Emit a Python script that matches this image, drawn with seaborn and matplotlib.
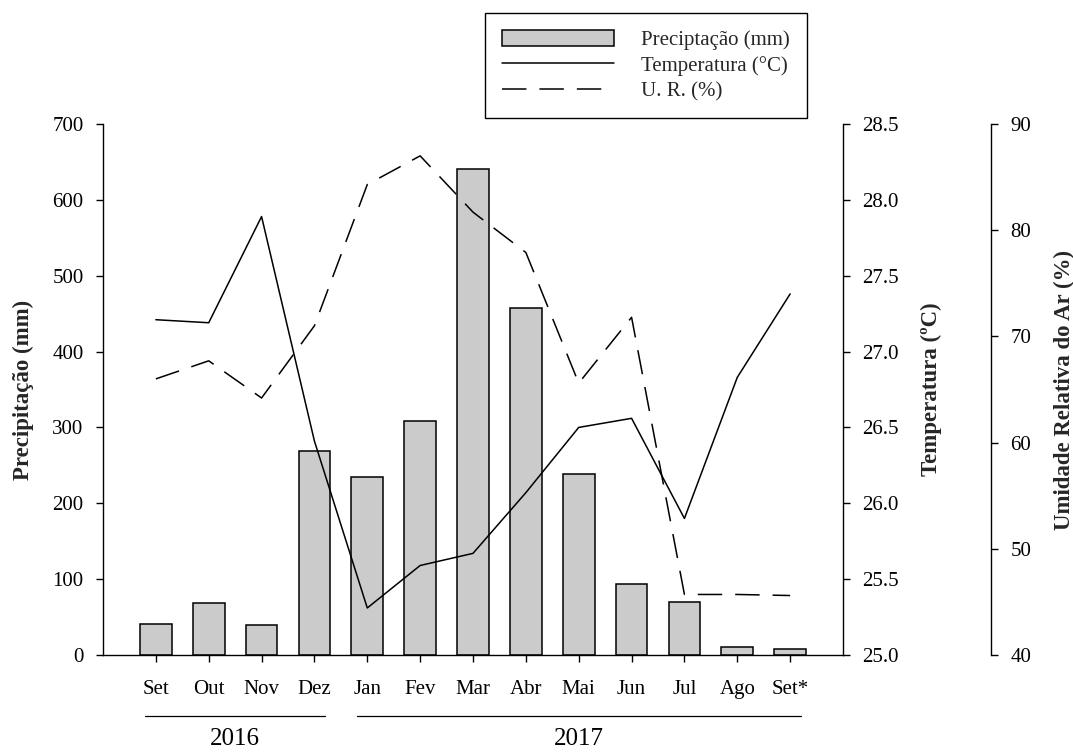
import numpy as np
import pandas as pd
import matplotlib
matplotlib.use("Agg")
import matplotlib.pyplot as plt
import matplotlib.transforms as mtransforms
from matplotlib.lines import Line2D
from matplotlib.patches import Patch
import seaborn as sns

# Monthly climate data
meses = ["Set", "Out", "Nov", "Dez", "Jan", "Fev", "Mar", "Abr", "Mai", "Jun", "Jul", "Ago", "Set*"]
precipitacao = [41, 69, 40, 269, 234, 309, 641, 458, 239, 94, 70, 10, 8]
temperatura = [27.21, 27.19, 27.89, 26.41, 25.31, 25.59, 25.67, 26.07, 26.50, 26.56, 25.90, 26.83, 27.38]
umidade = [66.0, 67.7, 64.2, 71.0, 84.3, 87.0, 81.7, 77.9, 65.6, 71.8, 45.7, 45.7, 45.6]
anos = ["2016", "2017"]
meses_por_ano = [4, 9]

prec_ticks = [0, 100, 200, 300, 400, 500, 600, 700]
temp_ticks = [25.0, 25.5, 26.0, 26.5, 27.0, 27.5, 28.0, 28.5]
ur_ticks = [40, 50, 60, 70, 80, 90]

sns.set_theme(style="ticks")
plt.rcParams["font.family"] = ["Liberation Serif", "DejaVu Serif"]
plt.rcParams["axes.linewidth"] = 1.0

TICK_FS = 15
LABEL_FS = 16.5

df = pd.DataFrame({
    "mes": meses,
    "pos": np.arange(len(meses)),
    "prec": precipitacao,
    "temp": temperatura,
    "ur": umidade,
})

fig = plt.figure(figsize=(10.73, 7.53), dpi=100)
ax = fig.add_axes([103 / 1073, 98 / 753, 740 / 1073, 531 / 753])

# Precipitation bars
sns.barplot(data=df, x="mes", y="prec", ax=ax, color="#cbcbcb", saturation=1,
            edgecolor="black", linewidth=1.1, width=0.6, zorder=2)

# Temperature line on the first twin axis
ax_t = ax.twinx()
sns.lineplot(data=df, x="pos", y="temp", ax=ax_t, color="black", lw=1.1, sort=False)

# Relative humidity on an offset twin axis
ax_u = ax.twinx()
ax_u.spines["right"].set_position(("axes", 1.2))
sns.lineplot(data=df, x="pos", y="ur", ax=ax_u, color="black", lw=1.1, sort=False,
             linestyle=(0, (16, 8.5)))

ax.set_xlim(-1, len(meses))
ax.set_ylim(0, 700)
ax_t.set_ylim(25.0, 28.5)
ax_u.set_ylim(40, 90)

ax.set_yticks(prec_ticks)
ax_t.set_yticks(temp_ticks)
ax_t.set_yticklabels([f"{v:.1f}" for v in temp_ticks])
ax_u.set_yticks(ur_ticks)

for a in (ax, ax_t, ax_u):
    a.set_xlabel("")
    for s in a.spines.values():
        s.set_linewidth(1.0)
        s.set_color("black")
    a.tick_params(axis="both", length=5, width=1.0, pad=9, labelsize=TICK_FS,
                  colors="black", direction="out")
    a.grid(False)
ax.tick_params(axis="x", pad=13)

ax.spines["top"].set_visible(False)
ax.spines["right"].set_visible(False)
for a in (ax_t, ax_u):
    a.spines["top"].set_visible(False)
    a.spines["left"].set_visible(False)
    a.spines["bottom"].set_visible(False)

ax.set_ylabel("Precipitação (mm)", fontsize=LABEL_FS, fontweight="bold", labelpad=13)
ax_t.set_ylabel("Temperatura (ºC)", fontsize=LABEL_FS, fontweight="bold", labelpad=16)
ax_u.set_ylabel("Umidade Relativa do Ar (%)", fontsize=LABEL_FS, fontweight="bold", labelpad=16)

# Year brackets under the month labels
trans = mtransforms.blended_transform_factory(ax.transData, ax.transAxes)
inicio = 0
for ano, n in zip(anos, meses_por_ano):
    x0, x1 = inicio - 0.2, inicio + n - 1 + 0.2
    ax.plot([x0, x1], [-0.115, -0.115], transform=trans, color="black", lw=0.9,
            clip_on=False)
    ax.text((x0 + x1) / 2, -0.158, ano, transform=trans, ha="center", va="center",
            fontsize=18, color="black")
    inicio += n

handles = [
    Patch(facecolor="#cbcbcb", edgecolor="black", linewidth=1.1),
    Line2D([], [], color="black", lw=1.1),
    Line2D([], [], color="black", lw=1.1, linestyle=(0, (16, 8.5))),
]
labels = ["Preciptação (mm)", "Temperatura (°C)", "U. R. (%)"]
leg = fig.legend(handles, labels, loc="upper left",
                 bbox_to_anchor=(485 / 1073, 1 - 13 / 753), fontsize=TICK_FS,
                 frameon=True, fancybox=False, framealpha=1, edgecolor="black",
                 handlelength=5.4, handleheight=0.8, handletextpad=1.3,
                 labelspacing=0.27, borderpad=0.8, borderaxespad=0)
leg.get_frame().set_linewidth(1.0)

fig.savefig("out.png", dpi=100)
